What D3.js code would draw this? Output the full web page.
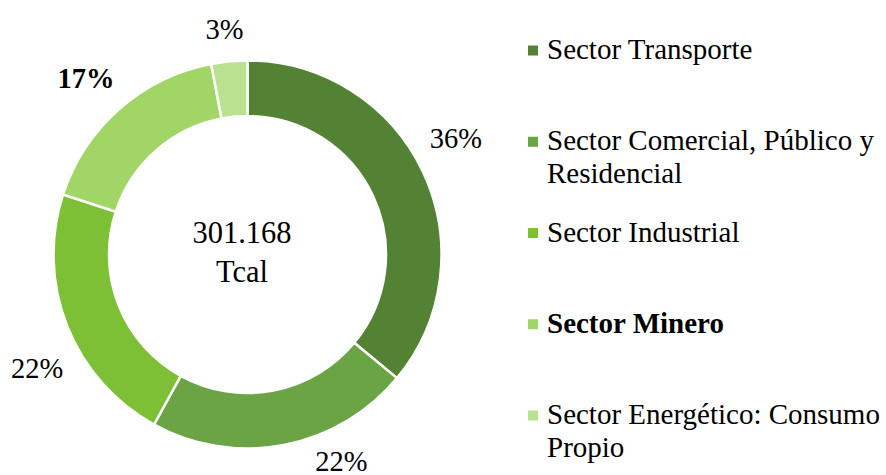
<!DOCTYPE html>
<html>
<head>
<meta charset="utf-8">
<script src="https://cdn.jsdelivr.net/npm/d3@7"></script>
<style>
  body { margin: 0; background: #fff; }
  text { font-family: "Liberation Serif", "Times New Roman", serif; fill: #000; }
</style>
</head>
<body>
<script>
// data
const categories = [
  'Sector Transporte',
  'Sector Comercial, Público y Residencial',
  'Sector Industrial',
  'Sector Minero',
  'Sector Energético: Consumo Propio'
];
const shares = [36, 22, 22, 17, 3];
const boldItems = ['Sector Minero'];
const totalLines = ['301.168', 'Tcal'];

const colors = ['#548235', '#6aa445', '#7dbf35', '#a1d565', '#b9e190'];
// Excel's "best fit" moved some labels off the straight radial spot
const labelNudge = [[-1.5, -7.7], [50.5, -11.5], [5.2, 38], [-8, 7.5], [-1.2, 15.5]];

const W = 886, H = 475;
const cx = 247.5, cy = 254.5;
const rOuter = 194, rInner = 138.5, rLabel = 232;

const svg = d3.select('body').append('svg')
  .attr('width', W).attr('height', H)
  .attr('viewBox', `0 0 ${W} ${H}`);

const color = d3.scaleOrdinal().domain(categories).range(colors);

const pie = d3.pie().sort(null).value((d) => d.value);
const arcs = pie(categories.map((c, i) => ({ key: c, value: shares[i] })));
const arc = d3.arc().innerRadius(rInner).outerRadius(rOuter);
const labelArc = d3.arc().innerRadius(rLabel).outerRadius(rLabel);

const g = svg.append('g').attr('transform', `translate(${cx},${cy})`);

g.selectAll('path')
  .data(arcs)
  .join('path')
  .attr('d', arc)
  .attr('fill', (d) => color(d.data.key))
  .attr('stroke', '#fff')
  .attr('stroke-width', 2.5)
  .attr('stroke-linejoin', 'miter');

g.selectAll('text.pct')
  .data(arcs)
  .join('text')
  .attr('class', 'pct')
  .attr('text-anchor', 'middle')
  .attr('font-size', 28.5)
  .attr('font-weight', (d) => (boldItems.includes(d.data.key) ? 'bold' : 'normal'))
  .attr('x', (d, i) => labelArc.centroid(d)[0] + labelNudge[i][0])
  .attr('y', (d, i) => labelArc.centroid(d)[1] + labelNudge[i][1])
  .text((d) => d3.format('.0f')(d.data.value) + '%');

// total in the hole
svg.append('text')
  .attr('text-anchor', 'middle')
  .attr('font-size', 30.5)
  .attr('transform', `translate(${cx - 5.5},${cy - 11.5})`)
  .selectAll('tspan')
  .data(totalLines)
  .join('tspan')
  .attr('x', 0)
  .attr('dy', (d, i) => (i ? 39 : 0))
  .text((d) => d);

// legend
const legend = svg.append('g').attr('transform', 'translate(528,59)');
const rowY = d3.scaleLinear().domain([0, categories.length - 1]).range([0, 365]);
const wrapWidth = W - 547;

const items = legend.selectAll('g')
  .data(categories)
  .join('g')
  .attr('transform', (d, i) => `translate(0,${rowY(i)})`);

items.append('rect')
  .attr('x', 0).attr('y', -13.5)
  .attr('width', 10).attr('height', 10)
  .attr('fill', (d) => color(d));

items.append('text')
  .attr('x', 19)
  .attr('font-size', 29)
  .attr('font-weight', (d) => (boldItems.includes(d) ? 'bold' : 'normal'))
  .each(function (d) {
    const t = d3.select(this);
    const words = d.split(' ');
    let line = [];
    let tspan = t.append('tspan').attr('x', 19).attr('dy', 0);
    words.forEach((w) => {
      line.push(w);
      tspan.text(line.join(' '));
      if (tspan.node().getComputedTextLength() > wrapWidth && line.length > 1) {
        line.pop();
        tspan.text(line.join(' '));
        line = [w];
        tspan = t.append('tspan').attr('x', 19).attr('dy', 33).text(w);
      }
    });
  });
</script>
</body>
</html>
